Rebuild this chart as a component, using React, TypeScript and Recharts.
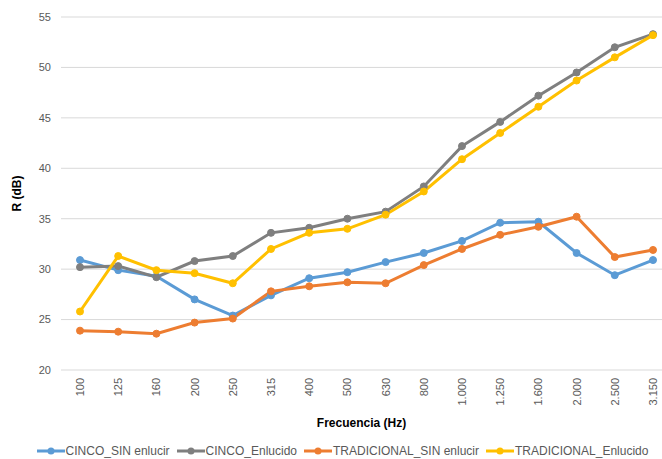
import React from 'react';
import { LineChart, Line, XAxis, YAxis, CartesianGrid, Legend } from 'recharts';

const frecuencias = ['100', '125', '160', '200', '250', '315', '400', '500', '630', '800', '1.000', '1.250', '1.600', '2.000', '2.500', '3.150'];

const cincoSinEnlucir = [30.9, 29.9, 29.3, 27.0, 25.4, 27.4, 29.1, 29.7, 30.7, 31.6, 32.8, 34.6, 34.7, 31.6, 29.4, 30.9];
const cincoEnlucido = [30.2, 30.3, 29.2, 30.8, 31.3, 33.6, 34.1, 35.0, 35.7, 38.2, 42.2, 44.6, 47.2, 49.5, 52.0, 53.3];
const tradicionalSinEnlucir = [23.9, 23.8, 23.6, 24.7, 25.1, 27.8, 28.3, 28.7, 28.6, 30.4, 32.0, 33.4, 34.2, 35.2, 31.2, 31.9];
const tradicionalEnlucido = [25.8, 31.3, 29.9, 29.6, 28.6, 32.0, 33.6, 34.0, 35.4, 37.7, 40.9, 43.5, 46.1, 48.7, 51.0, 53.2];

const yTicks = [20, 25, 30, 35, 40, 45, 50, 55];

const series = [
  { key: 'cinco_sin', name: 'CINCO_SIN enlucir', color: '#5B9BD5', values: cincoSinEnlucir },
  { key: 'cinco_enl', name: 'CINCO_Enlucido', color: '#7F7F7F', values: cincoEnlucido },
  { key: 'trad_sin', name: 'TRADICIONAL_SIN enlucir', color: '#ED7D31', values: tradicionalSinEnlucir },
  { key: 'trad_enl', name: 'TRADICIONAL_Enlucido', color: '#FFC000', values: tradicionalEnlucido },
];

const data = frecuencias.map((f, i) => {
  const row: Record<string, any> = { f };
  series.forEach((s) => (row[s.key] = s.values[i]));
  return row;
});

const FONT = '"Liberation Sans", Arial, sans-serif';

// rotated category labels, reading bottom to top
const FreqTick = ({ x, y, payload }: any) => (
  <g transform={`translate(${x},${y})`}>
    <text
      transform="rotate(-90)"
      x={0}
      y={4}
      textAnchor="end"
      fill="#595959"
      fontSize={11}
      fontFamily={FONT}
    >
      {payload.value}
    </text>
  </g>
);

const LegendContent = () => (
  <div style={{ display: 'flex', justifyContent: 'center', fontFamily: FONT, fontSize: 12, lineHeight: '14px', color: '#595959', paddingLeft: 30, paddingTop: 5 }}>
    {series.map((s) => (
      <span key={s.key} style={{ display: 'inline-flex', alignItems: 'center', marginRight: 7 }}>
        <svg width={28} height={10} style={{ marginRight: 1 }}>
          <line x1={0} y1={5} x2={28} y2={5} stroke={s.color} strokeWidth={3} />
          <circle cx={14} cy={5} r={3.5} fill={s.color} />
        </svg>
        {s.name}
      </span>
    ))}
  </div>
);

const YLabel = ({ viewBox }: any) => {
  const cy = viewBox.y + viewBox.height / 2;
  return (
    <text
      x={21}
      y={cy}
      transform={`rotate(-90, 21, ${cy})`}
      textAnchor="middle"
      fontWeight="bold"
      fontSize={12}
      fill="#000"
      fontFamily={FONT}
    >
      R (dB)
    </text>
  );
};

export default function App() {
  return (
    <div style={{ position: 'absolute', left: 0, top: 0, width: 662, height: 459, background: '#fff' }}>
      <LineChart width={662} height={459} data={data} margin={{ top: 17, right: 0, bottom: 0, left: 0 }}>
        <CartesianGrid vertical={false} stroke="#D9D9D9" strokeWidth={1} />
        <XAxis
          dataKey="f"
          height={69}
          interval={0}
          padding={{ left: 19, right: 9 }}
          axisLine={false}
          tickLine={false}
          tick={<FreqTick />}
          label={{
            value: 'Frecuencia (Hz)',
            position: 'insideBottom',
            offset: 12,
            fontWeight: 'bold',
            fontSize: 12,
            fill: '#000',
            fontFamily: FONT,
          }}
        />
        <YAxis
          width={61}
          domain={[20, 55]}
          ticks={yTicks}
          axisLine={false}
          tickLine={false}
          tickSize={0}
          tickMargin={10}
          tick={{ fill: '#595959', fontSize: 11, fontFamily: FONT }}
          label={<YLabel />}
        />
        <Legend verticalAlign="bottom" height={20} content={<LegendContent />} />
        {series.map((s) => (
          <Line
            key={s.key}
            dataKey={s.key}
            name={s.name}
            stroke={s.color}
            strokeWidth={3}
            dot={{ r: 3.5, fill: s.color, stroke: s.color, strokeWidth: 1 }}
            activeDot={false}
            isAnimationActive={false}
          />
        ))}
      </LineChart>
    </div>
  );
}
